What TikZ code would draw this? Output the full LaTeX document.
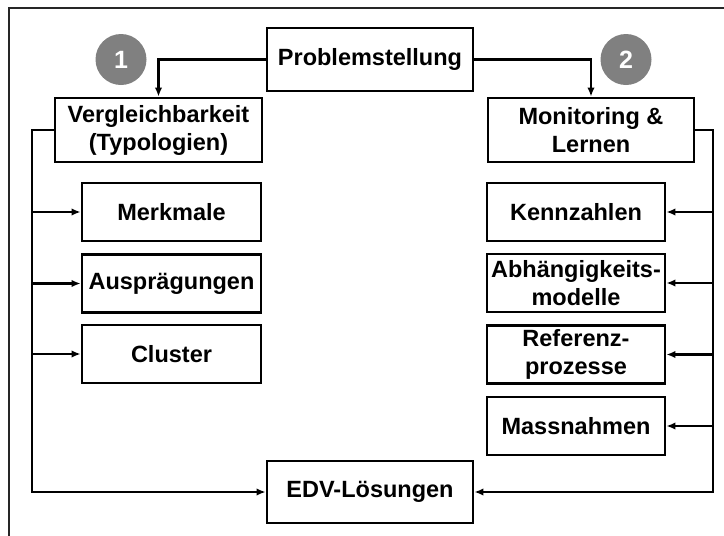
\documentclass[tikz,border=0pt]{standalone}
\usepackage{fontspec}
\setmainfont{Liberation Sans}
\usetikzlibrary{arrows.meta}
\definecolor{badgegray}{RGB}{128,128,128}
\tikzset{
  box/.style={draw,line width=2.8pt,inner sep=0pt,align=center,
    font=\fontsize{23.5}{28}\selectfont\bfseries},
  conn/.style={line width=2.2pt,-{Latex[length=9pt,width=7.5pt]}},
  badge/.style={circle,fill=badgegray,minimum size=51pt,inner sep=0pt,
    text=white,font=\fontsize{25}{28}\selectfont\bfseries},
  frame/.style={line width=1.4pt,draw=black!85}
}
\begin{document}
\begin{tikzpicture}[x=1pt,y=-1pt]
  \useasboundingbox (0,0) rectangle (724,536);
  \draw[frame] (724,8) -- (9,8) -- (9,536);
  % top row
  \node[box,minimum width=206pt,minimum height=63pt] (prob) at (370,59.5) {Problemstellung};
  \node[badge] (one) at (121,59.5) {1};
  \node[badge] (two) at (626,59.5) {2};
  \node[box,minimum width=207pt,minimum height=64pt] (vgl) at (158.5,130) {Vergleichbarkeit\\(Typologien)};
  \node[box,minimum width=206pt,minimum height=64pt] (mon) at (591,130) {Monitoring \&\\Lernen};
  % left column
  \foreach \y/\n/\t in {212/m1/Merkmale,283.5/m2/Auspr\"agungen,354/m3/Cluster}
    \node[box,minimum width=179pt,minimum height=58pt] (\n) at (171.5,\y) {\t};
  % right column
  \foreach \y/\n/\t in {212/k1/Kennzahlen,283/k2/Abh\"angigkeits-\\modelle,354.5/k3/Referenz-\\prozesse,426/k4/Massnahmen}
    \node[box,minimum width=178pt,minimum height=58pt] (\n) at (576,\y) {\t};
  \node[box,minimum width=206pt,minimum height=62pt] (edv) at (370,492) {EDV-L\"osungen};
  % connectors
  \coordinate (lt) at (32,130);
  \coordinate (lb) at (32,492);
  \coordinate (rt) at (713,130);
  \coordinate (rb) at (713,492);
  \draw[conn] (prob.west) -| (vgl.north);
  \draw[conn] (prob.east) -| (mon.north);
  \draw[conn] (vgl.west) -- (lt) -- (lb) -- (edv.west);
  \draw[conn] (mon.east) -- (rt) -- (rb) -- (edv.east);
  \foreach \n in {m1,m2,m3}
    \draw[conn] (lt |- \n.west) -- (\n.west);
  \foreach \n in {k1,k2,k3,k4}
    \draw[conn] (rt |- \n.east) -- (\n.east);
\end{tikzpicture}
\end{document}
